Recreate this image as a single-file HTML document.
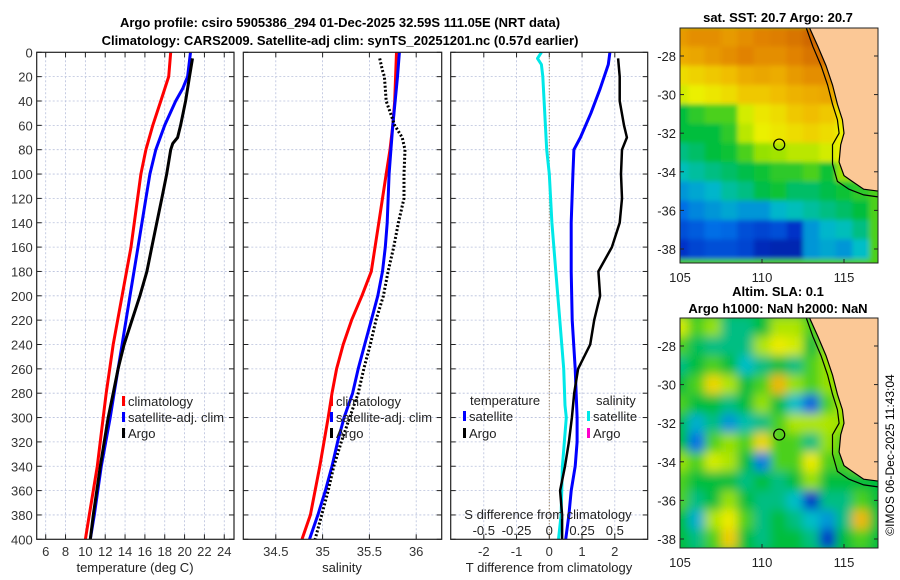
<!DOCTYPE html>
<html><head><meta charset="utf-8"><style>
html,body{margin:0;padding:0;background:#fff;}
svg{display:block;font-family:"Liberation Sans","DejaVu Sans",sans-serif;}
</style></head><body>
<svg id="fig" width="900" height="580" viewBox="0 0 900 580" xmlns="http://www.w3.org/2000/svg">
<defs>
<filter id="blur" x="-5%" y="-5%" width="110%" height="110%"><feGaussianBlur stdDeviation="5"/></filter>
<filter id="blur2" x="-5%" y="-5%" width="110%" height="110%"><feGaussianBlur stdDeviation="2.5"/></filter>
<clipPath id="clipSST"><rect x="680" y="28" width="198" height="235"/></clipPath>
<clipPath id="clipSLA"><rect x="680" y="318" width="198" height="230"/></clipPath>
</defs>
<text x="340" y="27" font-size="13" font-weight="bold" text-anchor="middle">Argo profile: csiro 5905386_294 01-Dec-2025 32.59S 111.05E (NRT data)</text>
<text x="340" y="45" font-size="13" font-weight="bold" text-anchor="middle">Climatology: CARS2009. Satellite-adj clim: synTS_20251201.nc (0.57d earlier)</text>
<g id="plots"></g>
<text x="778" y="22" font-size="13" font-weight="bold" text-anchor="middle">sat. SST: 20.7 Argo: 20.7</text>
<text x="778" y="296" font-size="13" font-weight="bold" text-anchor="middle">Altim. SLA: 0.1</text>
<text x="778" y="313" font-size="13" font-weight="bold" text-anchor="middle">Argo h1000: NaN h2000: NaN</text>
<text transform="translate(894,455) rotate(-90)" font-size="12" text-anchor="middle">©IMOS 06-Dec-2025 11:43:04</text>
</svg>
<script>
// ---- data ----
const depthTicks=[0,20,40,60,80,100,120,140,160,180,200,220,240,260,280,300,320,340,360,380,400];
const tempTicks=[6,8,10,12,14,16,18,20,22,24];
const salTicks=[34.5,35,35.5,36];
const salTickLabels=["34.5","35","35.5","36"];
const tdiffTicks=[-2,-1,0,1,2];
const sdiffTickLabels=["-0.5","-0.25","0","0.25","0.5"];
const sdiffTicks=[-0.5,-0.25,0,0.25,0.5];

const climTDepth=[0,20,40,60,80,100,160,200,240,280,300,340,380,400];
const climT=[18.6,18.4,17.6,16.8,16.1,15.6,14.6,13.7,12.8,12.1,11.8,11.2,10.4,10.0];
const satTDepth=[0,20,30,40,60,80,100,120,160,200,240,280,300,340,380,400];
const satT=[20.6,20.3,19.8,19.1,18.0,17.1,16.5,16.1,15.3,14.5,13.7,12.9,12.5,11.6,10.9,10.5];
const argoTDepth=[5,20,40,60,70,75,80,100,120,140,160,180,200,220,240,260,280,300,340,380,400];
const argoT=[20.8,20.5,20.1,19.6,19.3,18.8,18.6,18.2,17.7,17.2,16.7,16.2,15.5,14.7,13.9,13.3,12.8,12.3,11.5,10.8,10.5];

const climSDepth=[0,20,40,60,80,100,140,180,200,220,240,260,280,300,340,380,400];
const climS=[35.79,35.78,35.77,35.75,35.72,35.68,35.6,35.52,35.42,35.31,35.22,35.15,35.1,35.06,34.97,34.87,34.78];
const satSDepth=[0,20,60,80,100,140,160,180,200,220,240,260,280,300,320,340,360,380,400];
const satS=[35.82,35.8,35.75,35.73,35.71,35.69,35.67,35.64,35.59,35.52,35.45,35.38,35.32,35.23,35.16,35.1,35.03,34.95,34.86];
const argoSDepth=[5,15,20,40,60,70,80,100,120,140,160,180,200,220,240,260,280,300,320,340,360,380,400];
const argoS=[35.61,35.64,35.66,35.68,35.77,35.85,35.88,35.87,35.87,35.81,35.76,35.7,35.65,35.57,35.51,35.44,35.38,35.29,35.2,35.12,35.06,34.99,34.92];

const satTdDepth=[0,10,30,50,70,80,100,140,180,220,260,300,320,340,360,380,400];
const satTd=[1.85,1.8,1.55,1.27,0.95,0.75,0.72,0.67,0.67,0.7,0.79,0.85,0.85,0.79,0.67,0.6,0.5];
const argoTdDepth=[5,20,40,60,70,80,100,120,140,160,180,200,220,240,260,280,300,320,340,360,380,400];
const argoTd=[2.1,2.15,2.15,2.28,2.37,2.22,2.19,2.22,2.15,1.91,1.5,1.55,1.37,1.25,0.88,0.76,0.69,0.6,0.48,0.33,0.39,0.39];
const satSdDepth=[0,5,10,20,40,80,100,140,180,220,260,290,300,340,380,400];
const satSd=[-0.06,-0.09,-0.06,-0.05,-0.04,-0.02,0,0.02,0.05,0.08,0.11,0.12,0.13,0.1,0.09,0.07];

const sstLats=[-27,-28,-29,-30,-31,-32,-33,-34,-35,-36,-37,-38];
const sstLons=[105,106,107,108,109,110,111,112,113,114,115,116];
const sstGrid=[
[.78,.8,.8,.78,.8,.82,.83,.85,.88,.88,.9,.9],
[.75,.76,.78,.8,.82,.8,.8,.82,.85,.86,.9,.9],
[.66,.68,.7,.72,.75,.76,.75,.78,.8,.8,.8,.8],
[.6,.62,.64,.66,.7,.7,.72,.74,.75,.76,.7,.7],
[.45,.48,.5,.5,.6,.64,.66,.7,.72,.7,.65,.65],
[.45,.45,.45,.48,.58,.62,.64,.66,.68,.66,.62,.6],
[.4,.42,.45,.46,.5,.55,.56,.58,.58,.6,.62,.6],
[.36,.38,.4,.42,.44,.46,.48,.48,.5,.46,.55,.55],
[.3,.32,.34,.38,.4,.44,.46,.42,.42,.44,.46,.48],
[.25,.28,.3,.32,.3,.3,.34,.36,.38,.4,.42,.45],
[.2,.22,.25,.24,.2,.18,.2,.15,.3,.34,.36,.4],
[.15,.18,.2,.2,.18,.12,.1,.1,.3,.32,.3,.35]];
const slaGrid=[
[.65,.55,.6,.45,.45,.5,.62,.62,.55,.6,.6,.6],
[.55,.48,.45,.45,.45,.62,.68,.65,.5,.6,.6,.6],
[.45,.5,.55,.5,.4,.45,.5,.45,.55,.6,.6,.6],
[.5,.55,.72,.62,.5,.55,.78,.6,.55,.6,.6,.6],
[.55,.5,.5,.45,.5,.6,.5,.4,.28,.55,.62,.6],
[.48,.38,.45,.35,.42,.45,.55,.62,.62,.62,.6,.6],
[.5,.3,.55,.6,.55,.72,.55,.55,.45,.6,.55,.55],
[.6,.55,.65,.62,.5,.32,.55,.55,.68,.55,.55,.6],
[.55,.5,.5,.5,.45,.5,.45,.5,.6,.5,.5,.5],
[.55,.45,.5,.6,.5,.45,.45,.4,.2,.45,.45,.55],
[.5,.38,.62,.68,.55,.45,.5,.45,.4,.35,.45,.78],
[.5,.45,.55,.74,.5,.45,.5,.5,.45,.2,.5,.55]];
const coastLons=[112.9,113.4,113.9,114.3,114.6,114.9,115.0,114.8,114.7,115.0,115.5,116.2,117.1];
const coastLats=[-26.55,-27.5,-28.5,-29.5,-30.5,-31.3,-32.0,-32.6,-33.5,-34.2,-34.5,-34.9,-35.0];
const shelfLons=[112.7,113.1,113.6,114.0,114.3,114.6,114.7,114.3,114.3,114.6,115.3,116.2,117.1];
const shelfLats=[-26.55,-27.5,-28.5,-29.5,-30.5,-31.3,-32.0,-32.6,-33.6,-34.5,-34.9,-35.2,-35.3];
const argoLon=111.05, argoLat=-32.59;

// ---- helpers ----
const NS="http://www.w3.org/2000/svg";
const root=document.getElementById('plots');
function mk(tag,attrs,parent){const e=document.createElementNS(NS,tag);for(const k in attrs)e.setAttribute(k,attrs[k]);(parent||root).appendChild(e);return e;}
const Y0=52.3,Y1=539.3;
const yD=d=>Y0+(Y1-Y0)*d/400;
const xT=t=>45.7+(t-6)*9.92;
const xS=s=>322.6+(s-35)*93.6;
const xTd=d=>549.3+d*32.75;
const xSd=s=>549.3+s*131;

function frame(x0,x1,name,showY){
  const g=mk('g',{});
  
  
  depthTicks.forEach(d=>{
    const y=yD(d);
    if(d>0&&d<400){const l=mk('line',{x1:x0,x2:x1,y1:y,y2:y,stroke:'#b8c0dc','stroke-width':0.8,'stroke-dasharray':'2,2'},g);
    }
    mk('line',{x1:x0,x2:x0+5,y1:y,y2:y,stroke:'#222','stroke-width':1},g);
    mk('line',{x1:x1-5,x2:x1,y1:y,y2:y,stroke:'#222','stroke-width':1},g);
    if(showY){const t=mk('text',{x:x0-4,y:y+5,'font-size':13,'text-anchor':'end',fill:'#333'},g);t.textContent=d;
      }
  });
  return g;
}
function xaxis(g,x0,x1,ticks,labels,xf){
  ticks.forEach((v,i)=>{const x=xf(v);
    const l=mk('line',{x1:x,x2:x,y1:Y0,y2:Y1,stroke:'#b8c0dc','stroke-width':0.8,'stroke-dasharray':'2,2'},g);
    
    mk('line',{x1:x,x2:x,y1:Y1-5,y2:Y1,stroke:'#222'},g);
    mk('line',{x1:x,x2:x,y1:Y0,y2:Y0+5,stroke:'#222'},g);
    const t=mk('text',{x:x,y:556,'font-size':13,'text-anchor':'middle',fill:'#333'},g);t.textContent=labels[i];
    
  });
}
function border(g,x0,x1){mk('rect',{x:x0,y:Y0,width:x1-x0,height:Y1-Y0,fill:'none',stroke:'#222','stroke-width':1.2},g);}
function line(g,depths,vals,xf,color,name,dash,w){
  const pts=depths.map((d,i)=>xf(vals[i]).toFixed(1)+','+yD(d).toFixed(1)).join(' ');
  const p=mk('polyline',{points:pts,fill:'none',stroke:color,'stroke-width':w||3,'stroke-linejoin':'round'},g);
  if(dash)p.setAttribute('stroke-dasharray',dash);
  
}
function txt(g,x,y,s,name,anchor,size){const t=mk('text',{x:x,y:y,'font-size':size||13,'text-anchor':anchor||'start',fill:'#222'},g);t.textContent=s;
  return t;}
function legItem(g,x,y,color,label,name){
  const r=mk('rect',{x:x,y:y-10,width:3,height:10,fill:color},g);
  
  txt(g,x+6,y,label,name);
}

// Panel 1 temperature
let g1=frame(36.7,234,'temperature-panel',true);
xaxis(g1,36.7,234,tempTicks,tempTicks.map(String),xT);
line(g1,climTDepth,climT,xT,'#ff0000','climatology-temperature-line');
line(g1,satTDepth,satT,xT,'#0000ff','satellite-temperature-line');
line(g1,argoTDepth,argoT,xT,'#000000','argo-temperature-line');
border(g1,36.7,234);
legItem(g1,122,406,'#ff0000','climatology','legend-climatology');
legItem(g1,122,422,'#0000ff','satellite-adj. clim','legend-satellite');
legItem(g1,122,438,'#000000','Argo','legend-argo');
txt(g1,135,572,'temperature (deg C)','x-axis-title-temperature','middle');

// Panel 2 salinity
let g2=frame(243.3,441.7,'salinity-panel',false);
xaxis(g2,243.3,441.7,salTicks,salTickLabels,xS);
line(g2,climSDepth,climS,xS,'#ff0000','climatology-salinity-line');
line(g2,satSDepth,satS,xS,'#0000ff','satellite-salinity-line');
line(g2,argoSDepth,argoS,xS,'#000000','argo-salinity-line','2,2');
border(g2,243.3,441.7);
legItem(g2,330,406,'#ff0000','climatology','legend-climatology-sal');
legItem(g2,330,422,'#0000ff','satellite-adj. clim','legend-satellite-sal');
legItem(g2,330,438,'#000000','Argo','legend-argo-sal');
txt(g2,342,572,'salinity','x-axis-title-salinity','middle');

// Panel 3 differences
let g3=frame(450.7,647.7,'difference-panel',false);
xaxis(g3,450.7,647.7,tdiffTicks,tdiffTicks.map(String),xTd);
let z=mk('line',{x1:xTd(0),x2:xTd(0),y1:Y0,y2:Y1,stroke:'#8a6a3a','stroke-width':1,'stroke-dasharray':'1,2'},g3);

line(g3,satSdDepth,satSd,xSd,'#00e8e8','satellite-salinity-diff-line');
line(g3,satTdDepth,satTd,xTd,'#0000ff','satellite-temperature-diff-line');
line(g3,argoTdDepth,argoTd,xTd,'#000000','argo-temperature-diff-line',null,2.5);
border(g3,450.7,647.7);
txt(g3,470,405,'temperature','legend-title-temperature');
legItem(g3,463,421,'#0000ff','satellite','legend-t-satellite');
legItem(g3,463,438,'#000000','Argo','legend-t-argo');
txt(g3,596,405,'salinity','legend-title-salinity');
legItem(g3,587,421,'#00e8e8','satellite','legend-s-satellite');
legItem(g3,587,438,'#ff00cc','Argo','legend-s-argo');
txt(g3,548,519,'S difference from climatology','s-diff-axis-title','middle');
sdiffTicks.forEach((v,i)=>txt(g3,xSd(v),535,sdiffTickLabels[i],'s-diff-tick-label','middle'));
txt(g3,549,572,'T difference from climatology','x-axis-title-tdiff','middle');

// Maps
function cmapSST(v){
  const stops=[[0,[0,16,130]],[.15,[0,50,200]],[.25,[0,110,230]],[.35,[0,190,200]],[.45,[0,190,60]],[.55,[150,225,0]],[.62,[235,240,0]],[.72,[240,190,0]],[.82,[225,130,0]],[1,[170,50,0]]];
  v=Math.max(0,Math.min(1,v));
  for(let i=1;i<stops.length;i++){if(v<=stops[i][0]){const a=stops[i-1],b=stops[i],t=(v-a[0])/(b[0]-a[0]);
    return 'rgb('+a[1].map((c,k)=>Math.round(c+(b[1][k]-c)*t)).join(',')+')';}}
  return 'rgb(170,50,0)';
}
const cmapSLA=v=>cmapSST(v-0.05);
const lonX=lo=>680+(lo-105)*16.4;
function map(yTop,yBot,latTop,pxPerDeg,grid,clip,name,blurId,cmap){
  const g=mk('g',{});
  
  const latY=la=>yTop+(latTop-la)*pxPerDeg;
  const cg=mk('g',{'clip-path':'url(#'+clip+')'},g);
  const cells=mk('g',{filter:'url(#'+blurId+')'},cg);
  mk('rect',{x:660,y:yTop-20,width:240,height:yBot-yTop+40,fill:cmap(0.5)},cells);
  grid.forEach((row,r)=>row.forEach((v,c)=>{
    const x=lonX(sstLons[c]-0.5),y=latY(sstLats[r]+0.5);
    const cell=mk('rect',{x:x.toFixed(1),y:y.toFixed(1),width:16.9,height:(pxPerDeg+0.5).toFixed(1),fill:cmap(v)},cells);
    
  }));
  let d='M'+lonX(coastLons[0])+','+(yTop-5);
  coastLons.forEach((lo,i)=>{d+=' L'+lonX(lo).toFixed(1)+','+latY(coastLats[i]).toFixed(1);});
  d+=' L900,'+latY(coastLats[coastLats.length-1]).toFixed(1)+' L900,'+(yTop-5)+' Z';
  const land=mk('path',{d:d,fill:'#fbc896',stroke:'#000','stroke-width':1.2},cg);
  
  const sh=mk('polyline',{points:shelfLons.map((lo,i)=>lonX(lo).toFixed(1)+','+latY(shelfLats[i]).toFixed(1)).join(' '),fill:'none',stroke:'#000','stroke-width':1.2},cg);
  
  const c=mk('circle',{cx:lonX(argoLon),cy:latY(argoLat),r:5.5,fill:'none',stroke:'#000','stroke-width':1.2},g);
  
  mk('rect',{x:680,y:yTop,width:198,height:yBot-yTop,fill:'none',stroke:'#222','stroke-width':1},g);
  [-28,-30,-32,-34,-36,-38].forEach(la=>{const y=latY(la);
    mk('line',{x1:680,x2:684,y1:y,y2:y,stroke:'#222'},g);mk('line',{x1:874,x2:878,y1:y,y2:y,stroke:'#222'},g);
    txt(g,676,y+5,String(la),'lat-tick-label','end');});
  [105,110,115].forEach(lo=>{const x=lonX(lo);
    mk('line',{x1:x,x2:x,y1:yBot-4,y2:yBot,stroke:'#222'},g);
    txt(g,x,yBot+19,String(lo),'lon-tick-label','middle');});
}
map(28,263,-26.55,19.3,sstGrid,'clipSST','sst-map','blur2',cmapSST);
map(318,548,-26.55,19.3,slaGrid,'clipSLA','sla-map','blur',cmapSLA);
</script>
</body></html>
